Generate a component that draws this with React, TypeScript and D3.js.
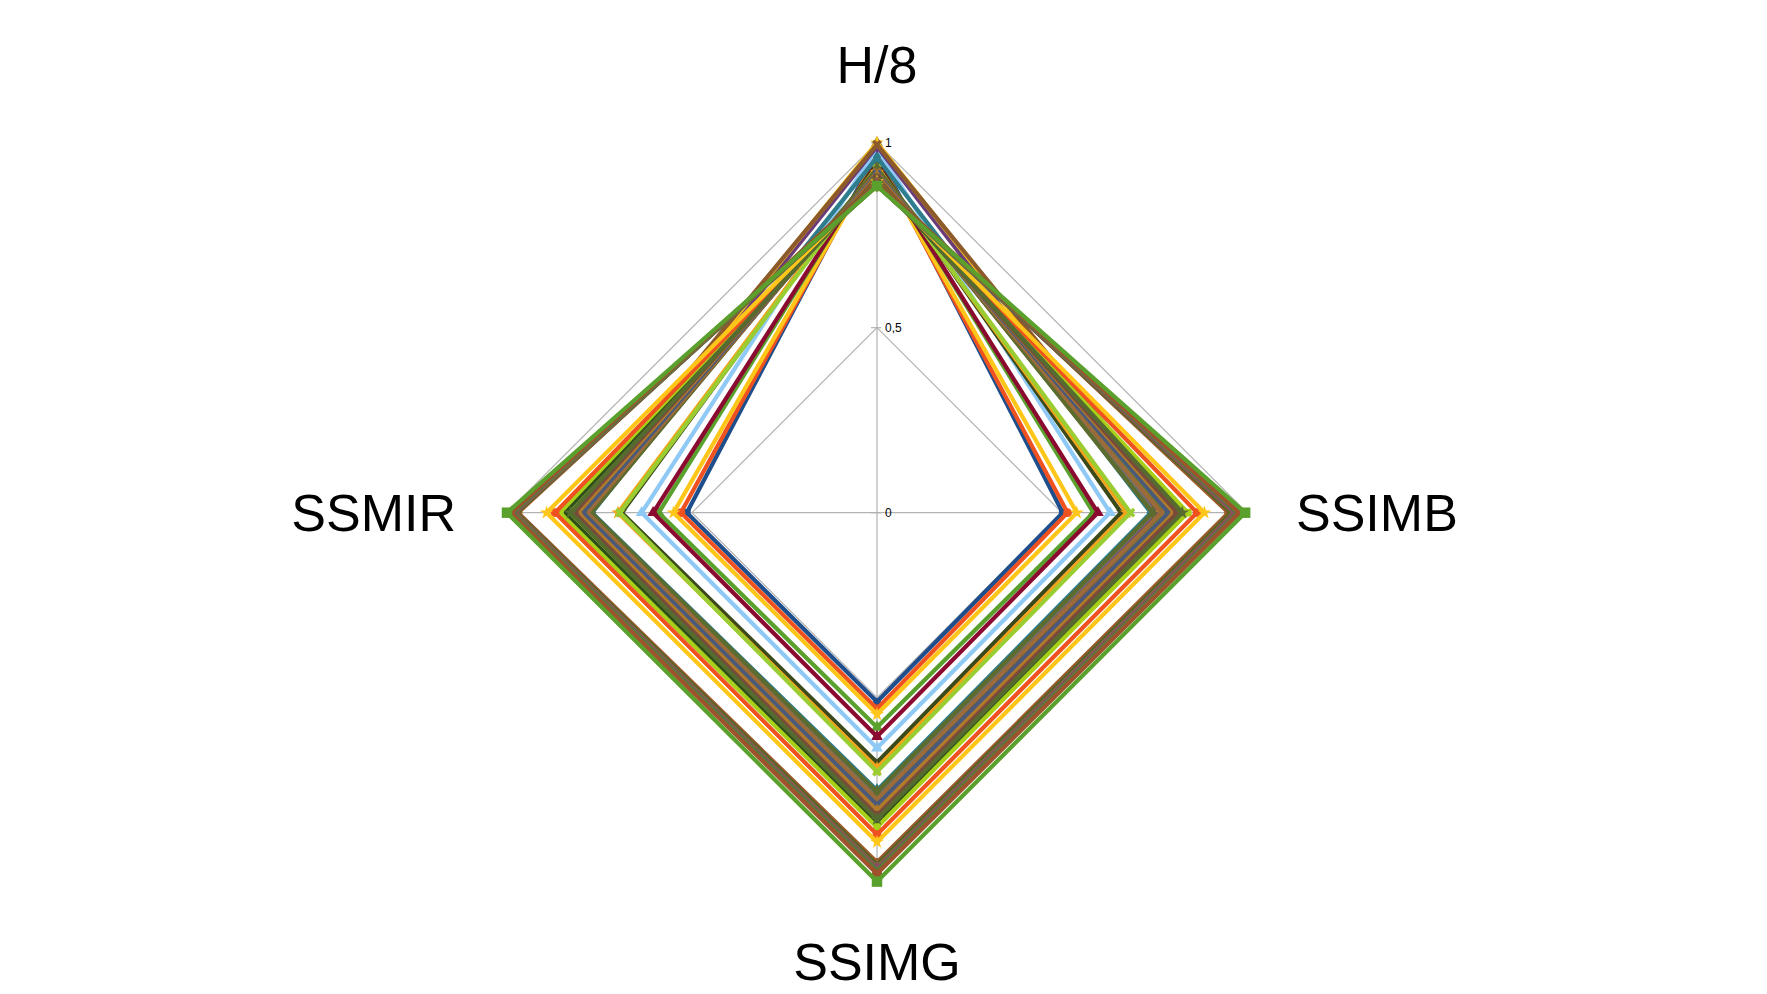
import React from 'react';
import * as d3 from 'd3';

const W = 1767;
const H = 994;

// axes, clockwise from the top
const axes = ['H/8', 'SSIMB', 'SSIMG', 'SSMIR'];
const ticks = [0, 0.5, 1];
const tickLabels = ['0', '0,5', '1'];

// series colours / markers (Excel-like palette)
const colors = [
  '#1f4e8c', '#f0521f', '#ffc61a', '#5aa02c', '#8b0a30', '#8fc9f5', '#3a4a1a', '#f5a31a', '#9acd32',
  '#2e7d8c', '#8c5a2b', '#a08030', '#707070', '#6a3d7a', '#f5a31a', '#2f4f1a', '#a0522d', '#6b8e23',
  '#ffc61a', '#f0521f', '#2e7d8c', '#8c5a2b', '#3a4a1a', '#9acd32', '#2f4f1a', '#a9d018', '#f0521f',
  '#5c6b2e', '#9c6b3a', '#4a5a7a', '#b07a2a', '#7a4a3a', '#556b2f',
  '#ffc61a', '#8c5a2b', '#707070', '#6a3d7a', '#2e7d8c', '#f5a31a', '#a08030', '#8b0a30', '#6b8e23',
  '#9c5b2a', '#4f6228', '#7f6a3a', '#8c4a6a', '#5a7a3a', '#a0522d',
  '#5aa02c',
];
const markers = [
  'square', 'circle', 'star', 'triangle', 'triangle', 'triangle', 'cross', 'star', 'cross',
  'diamond', 'square', 'triangle', 'cross', 'diamond', 'star', 'circle', 'square', 'triangle',
  'star', 'circle', 'diamond', 'cross', 'square', 'square', 'circle', 'square', 'circle',
  'diamond', 'cross', 'square', 'triangle', 'circle', 'star',
  'star', 'cross', 'diamond', 'circle', 'square', 'star', 'triangle', 'cross', 'diamond',
  'circle', 'square', 'triangle', 'diamond', 'cross', 'circle',
  'square',
];

// values per axis, one entry per series
const hOver8 = [
  0.975, 0.965, 0.955, 0.952, 0.948, 0.985, 0.94, 0.935, 0.93,
  0.96, 0.925, 1.0, 0.92, 0.99, 0.92, 0.915, 0.915, 0.91,
  1.0, 0.91, 0.905, 0.995, 0.9, 0.905, 0.9, 0.9, 0.895,
  0.93, 0.92, 0.915, 0.91, 0.905, 0.9,
  0.895, 0.89, 0.89, 0.885, 0.885, 0.885, 0.888, 0.887, 0.885,
  0.895, 0.89, 0.888, 0.886, 0.884, 0.886,
  0.883,
];
const ssimB = [
  0.502, 0.515, 0.54, 0.585, 0.597, 0.63, 0.66, 0.675, 0.685,
  0.74, 0.75, 0.755, 0.76, 0.765, 0.77, 0.775, 0.78, 0.785,
  0.79, 0.795, 0.8, 0.81, 0.815, 0.82, 0.83, 0.84, 0.865,
  0.745, 0.768, 0.788, 0.803, 0.812, 0.825,
  0.885, 0.955, 0.96, 0.962, 0.965, 0.97, 0.972, 0.975, 0.978,
  0.95, 0.958, 0.964, 0.968, 0.974, 0.98,
  0.995,
];
const ssimG = [
  0.511, 0.53, 0.545, 0.58, 0.605, 0.636, 0.675, 0.69, 0.7,
  0.75, 0.76, 0.765, 0.77, 0.78, 0.785, 0.79, 0.795, 0.8,
  0.8, 0.81, 0.815, 0.82, 0.825, 0.83, 0.839, 0.85, 0.87,
  0.755, 0.775, 0.79, 0.805, 0.818, 0.828,
  0.89, 0.95, 0.955, 0.96, 0.962, 0.965, 0.968, 0.97, 0.973,
  0.945, 0.952, 0.958, 0.963, 0.967, 0.976,
  0.997,
];
const ssimR = [
  0.514, 0.53, 0.55, 0.59, 0.605, 0.636, 0.69, 0.7, 0.695,
  0.77, 0.775, 0.78, 0.785, 0.79, 0.79, 0.8, 0.8, 0.805,
  0.81, 0.815, 0.82, 0.825, 0.83, 0.84, 0.845, 0.857, 0.87,
  0.772, 0.783, 0.795, 0.808, 0.818, 0.828,
  0.893, 0.975, 0.978, 0.98, 0.982, 0.983, 0.985, 0.987, 0.988,
  0.97, 0.974, 0.977, 0.981, 0.984, 0.99,
  1.0,
];

const cx = 877;
const cy = 512.7;
const R = 370;

const symbolTypes: Record<string, d3.SymbolType> = {
  square: d3.symbolSquare,
  circle: d3.symbolCircle,
  star: d3.symbolStar,
  triangle: d3.symbolTriangle,
  cross: d3.symbolCross,
  diamond: d3.symbolDiamond,
};

export default function App() {
  const r = d3.scaleLinear().domain([0, 1]).range([0, R]);
  const angle = d3.scalePoint<string>().domain(axes).range([0, 2 * Math.PI * 3 / 4]);

  const pt = (a: string, v: number): [number, number] => {
    const t = angle(a)!;
    return [cx + Math.sin(t) * r(v), cy - Math.cos(t) * r(v)];
  };

  const series = hOver8.map((h, i) => ({
    values: [h, ssimB[i], ssimG[i], ssimR[i]],
    color: colors[i],
    marker: markers[i],
  }));

  const radial = d3
    .lineRadial<number>()
    .angle((_, i) => angle(axes[i])!)
    .radius((v) => r(v))
    .curve(d3.curveLinearClosed);

  const font = '"Liberation Sans", Arial, sans-serif';

  return (
    <svg
      width={W}
      height={H}
      style={{ position: 'fixed', left: 0, top: 0, background: '#fff' }}
      fontFamily={font}
    >
      {/* grid */}
      <g stroke="#b3b3b3" strokeWidth={1.2} fill="none">
        {ticks.slice(1).map((t) => (
          <path
            key={t}
            d={radial(axes.map(() => t))!}
            transform={`translate(${cx},${cy})`}
          />
        ))}
        {axes.map((a) => {
          const [x, y] = pt(a, 1);
          return <line key={a} x1={cx} y1={cy} x2={x} y2={y} />;
        })}
        {ticks.map((t) => {
          const [, y] = pt(axes[0], t);
          return <line key={'t' + t} x1={cx - 6} x2={cx + 4} y1={y} y2={y} />;
        })}
      </g>

      {/* series */}
      {series.map((s, i) => (
        <g key={i}>
          <path
            d={radial(s.values)!}
            transform={`translate(${cx},${cy})`}
            fill="none"
            stroke={s.color}
            strokeWidth={4.2}
            strokeLinejoin="miter"
          />
          {axes.map((a, j) => {
            const [x, y] = pt(a, s.values[j]);
            const sz = i === series.length - 1 ? 110 : 60;
            const sym = d3.symbol().type(symbolTypes[s.marker]).size(sz)();
            return (
              <path
                key={a}
                d={sym!}
                transform={`translate(${x},${y})${s.marker === 'cross' ? ' rotate(45)' : ''}`}
                fill={s.color}
              />
            );
          })}
        </g>
      ))}

      {/* tick labels */}
      {ticks.map((t, i) => {
        const [, y] = pt(axes[0], t);
        return (
          <text key={t} x={cx + 8} y={y} dy="0.35em" fontSize={12} fill="#000">
            {tickLabels[i]}
          </text>
        );
      })}

      {/* axis titles */}
      <text x={cx} y={83} textAnchor="middle" fontSize={52} fill="#000">
        {axes[0]}
      </text>
      <text x={1296} y={cy} dy="0.35em" textAnchor="start" fontSize={52} fill="#000">
        {axes[1]}
      </text>
      <text x={cx} y={980} textAnchor="middle" fontSize={52} fill="#000">
        {axes[2]}
      </text>
      <text x={456} y={cy} dy="0.35em" textAnchor="end" fontSize={52} fill="#000">
        {axes[3]}
      </text>
    </svg>
  );
}
